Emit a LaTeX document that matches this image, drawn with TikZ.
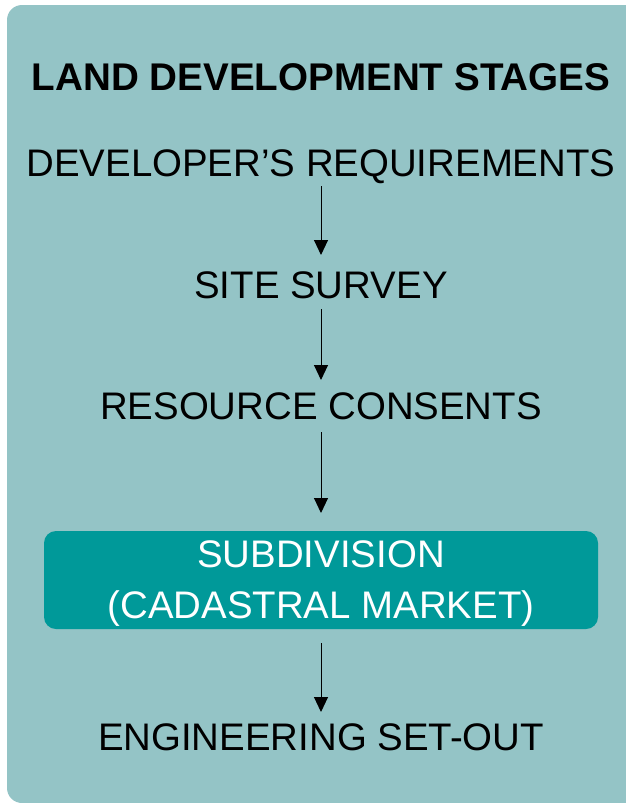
\documentclass[tikz,border=0pt]{standalone}
\usepackage{fontspec}
\setmainfont{Liberation Sans}
\usetikzlibrary{arrows.meta}
\definecolor{panel}{RGB}{148,196,198}
\definecolor{teal2}{RGB}{0,153,153}
\tikzset{
  lbl/.style={anchor=base, inner sep=0pt, font=\fontsize{38.4}{44}\selectfont},
  ttl/.style={anchor=base, inner sep=0pt, font=\fontsize{38.6}{44}\selectfont\bfseries},
  wlbl/.style={lbl, text=white},
  arr/.style={-{Triangle[width=14pt,length=15pt]}, line width=1pt, black}
}
\begin{document}
\begin{tikzpicture}[x=1pt,y=-1pt]
\useasboundingbox (0,0) rectangle (626,803);
\clip (0,0) rectangle (626,803);
\fill[panel, rounded corners=15pt] (7,5) rectangle (680,803);
\fill[teal2, rounded corners=12pt] (44,531) rectangle (598,629);
\node[ttl] (title) at (321,90) {LAND DEVELOPMENT STAGES};
\node[lbl] (dev) at (321,176) {DEVELOPER’S REQUIREMENTS};
\node[lbl] (site) at (321,298) {SITE SURVEY};
\node[lbl] (res) at (321,419) {RESOURCE CONSENTS};
\node[wlbl] (sub1) at (321,567) {SUBDIVISION};
\node[wlbl] (sub2) at (321,618) {(CADASTRAL MARKET)};
\node[lbl] (eng) at (321,750) {ENGINEERING SET-OUT};
\coordinate (a1s) at (321,186); \coordinate (a1e) at (321,255);
\coordinate (a2s) at (321,309); \coordinate (a2e) at (321,380);
\coordinate (a3s) at (321,432); \coordinate (a3e) at (321,513);
\coordinate (a4s) at (321,643); \coordinate (a4e) at (321,712);
\draw[arr] (a1s) -- (a1e);
\draw[arr] (a2s) -- (a2e);
\draw[arr] (a3s) -- (a3e);
\draw[arr] (a4s) -- (a4e);
\end{tikzpicture}
\end{document}
